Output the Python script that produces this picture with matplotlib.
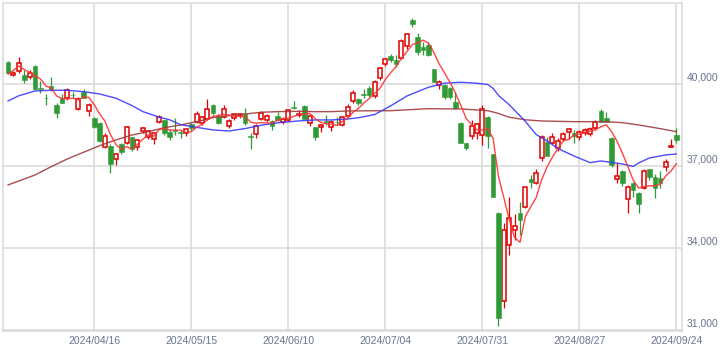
import matplotlib
matplotlib.use("Agg")
import matplotlib.pyplot as plt
import matplotlib.transforms as mtransforms
import numpy as np

# ---------------- data (Nikkei 225 daily, 2024/03/25 - 2024/09/24) ----------------
dates = ["03/25","03/26","03/27","03/28","03/29","04/01","04/02","04/03","04/04","04/05",
         "04/08","04/09","04/10","04/11","04/12","04/15","04/16","04/17","04/18","04/19",
         "04/22","04/23","04/24","04/25","04/26","04/30","05/01","05/02","05/07","05/08",
         "05/09","05/10","05/13","05/14","05/15","05/16","05/17","05/20","05/21","05/22",
         "05/23","05/24","05/27","05/28","05/29","05/30","05/31","06/03","06/04","06/05",
         "06/06","06/07","06/10","06/11","06/12","06/13","06/14","06/17","06/18","06/19",
         "06/20","06/21","06/24","06/25","06/26","06/27","06/28","07/01","07/02","07/03",
         "07/04","07/05","07/08","07/09","07/10","07/11","07/12","07/16","07/17","07/18",
         "07/19","07/22","07/23","07/24","07/25","07/26","07/29","07/30","07/31","08/01",
         "08/02","08/05","08/06","08/07","08/08","08/09","08/13","08/14","08/15","08/16",
         "08/19","08/20","08/21","08/22","08/23","08/26","08/27","08/28","08/29","08/30",
         "09/02","09/03","09/04","09/05","09/06","09/09","09/10","09/11","09/12","09/13",
         "09/17","09/18","09/19","09/20","09/24"]

opens = [40806,40320,40490,40330,40270,40660,39840,39500,39930,39230,
         39490,39490,39610,39090,39710,39010,38760,38570,37700,37730,
         37260,37810,37850,38060,37700,38280,38060,37990,38610,38680,
         38250,38310,38230,38220,38530,38620,38560,38730,39230,38830,
         38780,38480,38745,38860,38890,38100,38160,38710,38685,38650,
         38830,38600,38684,39150,38880,39200,38570,38430,38430,38640,
         38415,38620,38500,38830,39360,39465,39620,39840,39560,40210,
         40720,41026,40880,40945,41400,42340,41710,41350,41420,40540,
         39965,39965,39870,39355,38560,37830,38110,38220,38135,38780,
         37440,35270,32060,34110,34660,35270,35490,36525,36370,37280,
         37890,37830,37650,37980,38260,38195,38075,38220,38160,38380,
         39010,38750,38025,36525,36820,35790,36380,36010,36200,36890,
         36600,36560,36960,37710,38150]

highs = [40840,40470,40990,40500,40520,40700,40110,39640,40250,39290,
         39640,39850,39710,39530,39820,39300,38800,38600,38210,37800,
         37460,37830,38470,38070,38000,38430,38300,38250,38860,38700,
         38340,38770,38310,38370,38560,39000,38820,39440,39250,38900,
         39220,38720,38950,38950,39130,38200,38520,39000,38900,38680,
         38980,38790,39090,39360,39050,39220,38880,38440,38550,38850,
         38680,38800,38840,39250,39780,39480,39800,39920,40150,40620,
         40960,41100,41060,41650,41880,42400,41850,41520,41520,40550,
         40150,40010,39900,39700,38600,37840,38700,38580,39240,38820,
         37450,35300,34900,35860,35230,35670,36240,36660,36880,38130,
         38060,38220,38010,38230,38380,38330,38300,38380,38410,38680,
         39070,38980,38050,37110,36870,36300,36400,36050,36890,36900,
         36720,36800,37240,37990,38390]

lows = [40380,40300,40400,40040,40200,39780,39660,39230,39760,38770,
        39290,39420,39490,39050,39480,38830,38400,37880,37640,36740,
        37040,37440,37800,37540,37600,38200,37970,37790,38570,38150,
        37960,38150,38020,38080,38330,38570,38500,38700,38850,38520,
        38750,38380,38700,38750,38500,37620,38030,38690,38620,38330,
        38650,38540,38640,39080,38800,38710,38450,37950,38250,38490,
        38270,38500,38470,38800,39300,39220,39490,39520,39500,40150,
        40660,40820,40640,40900,41280,42100,41050,41050,41030,40080,
        39800,39450,39450,39100,37850,37590,38000,37970,37770,37650,
        35880,31150,31800,33740,34310,34480,35480,36180,36330,37200,
        37350,37800,37550,37900,38000,37830,37960,38140,38080,38300,
        38600,38600,36980,36380,36250,35280,35880,35280,36150,36500,
        35820,36190,36800,37690,37850]

closes = [40404,40415,40770,40150,40390,39800,39830,39480,39780,38940,
          39310,39780,39590,39450,39490,39230,38430,37920,38100,37070,
          37440,37510,38430,37620,37950,38390,38280,38210,38800,38210,
          38060,38290,38200,38355,38380,38890,38780,39070,38930,38590,
          39070,38650,38890,38870,38560,38050,38475,38950,38830,38467,
          38684,38710,39050,39135,38895,38710,38830,38070,38500,38620,
          38620,38600,38780,39150,39660,39320,39600,39600,40090,40600,
          40905,40880,40730,41576,41830,42200,41170,41250,41060,40090,
          40085,39535,39540,39110,37850,37650,38460,38540,39075,38100,
          35880,31450,34660,35090,34815,35025,36220,36430,36735,38050,
          37370,38050,37930,38180,38340,38100,38260,38320,38340,38625,
          38625,38620,37040,36635,36391,36230,36120,35620,36833,36581,
          36203,36380,37155,37730,37940]

# closes of the four sessions before the first candle (for the 5-day average)
prior_closes = [39740, 40003, 40815, 40888]

# 25-day moving average (blue): candle number -> value
ma25_idx = [1, 3, 6, 9, 12, 15, 18, 21, 24, 26, 29, 31, 33, 35, 39, 42, 45, 48, 51, 55,
            58, 61, 64, 66, 69, 72, 75, 79, 82, 85, 88, 90, 91, 92, 94, 97, 99, 101, 103,
            106, 109, 111, 113, 115, 117, 118, 120, 123, 125]
ma25_val = [39380, 39570, 39745, 39770, 39770, 39720, 39635, 39480, 39210, 38990, 38790,
            38690, 38510, 38445, 38320, 38280, 38370, 38490, 38580, 38650, 38685, 38685,
            38720, 38765, 38880, 39200, 39560, 39880, 40030, 40063, 40027, 39980, 39840,
            39580, 39240, 38630, 38150, 37916, 37641, 37367, 37122, 37184, 37130, 37074,
            36983, 37111, 37293, 37403, 37440]

# 75-day moving average (brown)
ma75_idx = [1, 6, 9, 12, 15, 18, 21, 24, 27, 30, 33, 36, 39, 42, 45, 48, 51, 55, 58, 61,
            64, 72, 79, 85, 90, 92, 94, 97, 100, 106, 112, 115, 118, 121, 125]
ma75_val = [36306, 36671, 36975, 37257, 37502, 37744, 37952, 38135, 38256, 38400, 38501,
            38622, 38768, 38841, 38903, 38966, 38988, 39002, 38988, 38988, 39013, 39024,
            39097, 39086, 39024, 38922, 38783, 38690, 38647, 38622, 38622, 38585, 38501,
            38402, 38256]

xtick_idx = [17, 35, 53, 71, 89, 107, 125]
xtick_labels = ["2024/04/16", "2024/05/15", "2024/06/10", "2024/07/04",
                "2024/07/31", "2024/08/27", "2024/09/24"]
ytick_vals = [31000, 34000, 37000, 40000]
ytick_labels = ["31,000", "34,000", "37,000", "40,000"]

# ---------------- style ----------------
UP = "#e00000"
DOWN = "#2f9a36"
MA5_C = "#ff3030"
MA25_C = "#3838ff"
MA75_C = "#a33a3a"
GRID = "#d9d9d9"
LABEL_C = "#6b7490"

plt.rcParams["font.family"] = ["Liberation Sans", "DejaVu Sans"]

fig = plt.figure(figsize=(7.22, 3.54), dpi=100)
ax = fig.add_axes([3.5 / 722, 1 - 331 / 354, (681.5 - 3.5) / 722, (331 - 2.5) / 354])

n = len(closes)
x = np.arange(1, n + 1)
o = np.array(opens, float)
h = np.array(highs, float)
l = np.array(lows, float)
c = np.array(closes, float)
up = c >= o

# wicks
ax.vlines(x[up], l[up], h[up], color=UP, linewidth=0.9, zorder=2)
ax.vlines(x[~up], l[~up], h[~up], color=DOWN, linewidth=0.9, zorder=2)

# bodies
w = 0.74
body_lo = np.minimum(o, c)
body_h = np.maximum(np.abs(c - o), 25)
ax.bar(x[up], body_h[up], bottom=body_lo[up], width=w, facecolor="white",
       edgecolor=UP, linewidth=1.1, zorder=3)
ax.bar(x[~up], body_h[~up], bottom=body_lo[~up], width=w + 0.1, facecolor=DOWN,
       edgecolor=DOWN, linewidth=0.4, zorder=3)

# moving averages
all_c = np.concatenate([prior_closes, c])
ma5 = np.convolve(all_c, np.ones(5) / 5, mode="valid")
ax.plot(ma75_idx, ma75_val, color=MA75_C, linewidth=1.0, alpha=0.9, zorder=4)
ax.plot(ma25_idx, ma25_val, color=MA25_C, linewidth=1.0, alpha=0.9, zorder=4)
ax.plot(x, ma5, color=MA5_C, linewidth=1.0, alpha=0.9, zorder=5)

# axes
ax.set_xlim(0.15, 125.96)
ax.set_ylim(30962, 42982)
ax.set_xticks(xtick_idx)
ax.set_xticklabels(xtick_labels)
ax.set_yticks(ytick_vals)
ax.set_yticklabels(ytick_labels)
ax.yaxis.tick_right()
ax.tick_params(axis="both", length=0, labelsize=7.5, labelcolor=LABEL_C)
ax.tick_params(axis="x", pad=3.5)
ax.tick_params(axis="y", pad=3.5)
shift = mtransforms.ScaledTranslation(0, 7 / 100, fig.dpi_scale_trans)
for lab in ax.get_yticklabels():
    lab.set_transform(lab.get_transform() + shift)
    lab.set_horizontalalignment("left")

ax.grid(True, color=GRID, linewidth=1.1, zorder=0)
ax.set_axisbelow(True)
for s in ax.spines.values():
    s.set_color(GRID)
    s.set_linewidth(1.1)

fig.savefig("out.png", dpi=100)
